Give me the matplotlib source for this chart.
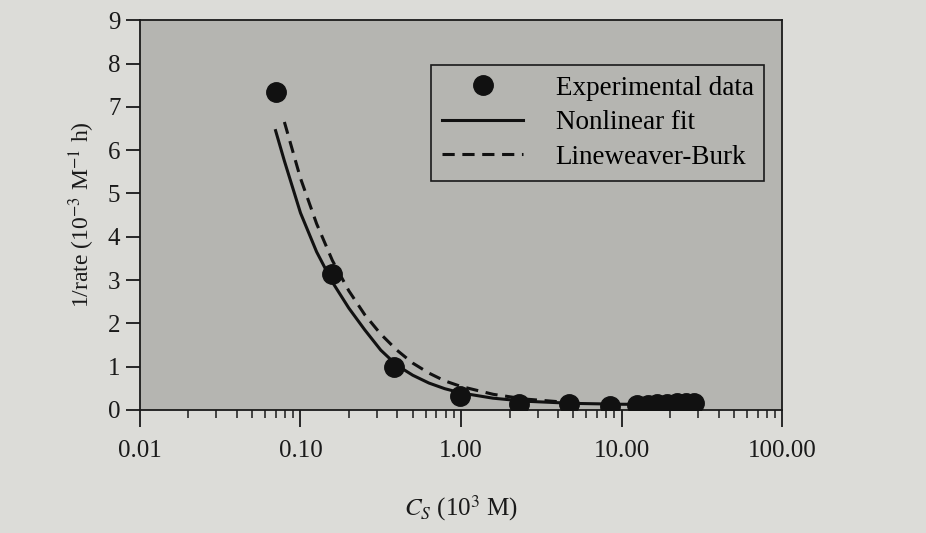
import matplotlib
matplotlib.use("Agg")
import matplotlib.pyplot as plt
from matplotlib.ticker import FixedLocator, LogLocator, NullFormatter

plt.rcParams['font.family'] = ['Liberation Serif', 'DejaVu Serif']
plt.rcParams['mathtext.fontset'] = 'stix'

# Experimental data
cs_exp = [0.07, 0.156, 0.38, 0.98, 2.3, 4.7, 8.5, 12.5, 14.5, 16.5, 19, 22, 25, 28]
inv_rate_exp = [7.35, 3.15, 0.98, 0.32, 0.14, 0.13, 0.09, 0.11, 0.12, 0.13, 0.14, 0.15, 0.16, 0.17]

# Nonlinear fit
cs_fit = [0.070, 0.0794, 0.10, 0.126, 0.158, 0.20, 0.251, 0.316, 0.398, 0.50, 0.63, 0.79,
          1.0, 1.58, 2.5, 5.0, 10.0, 31.6]
inv_rate_fit = [6.45, 5.75, 4.55, 3.65, 2.95, 2.35, 1.85, 1.38, 1.03, 0.80, 0.62, 0.49,
                0.39, 0.27, 0.20, 0.15, 0.13, 0.12]

# Lineweaver-Burk
cs_lb = [0.0794, 0.10, 0.126, 0.158, 0.20, 0.251, 0.316, 0.398, 0.50, 0.63, 0.79, 1.0,
         1.58, 2.5, 4.0, 5.0]
inv_rate_lb = [6.65, 5.35, 4.30, 3.45, 2.75, 2.20, 1.75, 1.38, 1.08, 0.85, 0.67, 0.54,
               0.36, 0.25, 0.19, 0.17]

xtick_vals = [0.01, 0.1, 1, 10, 100]
xtick_labels = ["0.01", "0.10", "1.00", "10.00", "100.00"]
ytick_vals = list(range(0, 10))

fig = plt.figure(figsize=(9.26, 5.33), dpi=100)
fig.patch.set_facecolor('#dcdcd8')
ax = fig.add_axes([0.151, 0.231, 0.694, 0.731])
ax.set_facecolor('#b5b5b1')

ax.plot(cs_fit, inv_rate_fit, color='#111111', lw=2.2, label='Nonlinear fit', zorder=3)
ax.plot(cs_lb, inv_rate_lb, color='#111111', lw=2.2, ls=(0, (4, 2.5)), label='Lineweaver-Burk', zorder=3)
ax.plot(cs_exp, inv_rate_exp, 'o', color='#111111', ms=14, label='Experimental data', zorder=4)

ax.set_xscale('log')
ax.set_xlim(0.01, 100)
ax.set_ylim(0, 9)
ax.xaxis.set_major_locator(FixedLocator(xtick_vals))
ax.set_xticklabels(xtick_labels)
ax.xaxis.set_minor_locator(LogLocator(base=10, subs=range(2, 10)))
ax.xaxis.set_minor_formatter(NullFormatter())
ax.set_yticks(ytick_vals)

ax.tick_params(axis='x', which='major', direction='out', length=12, width=1.3, labelsize=18, pad=10, colors='#1a1a1a')
ax.tick_params(axis='x', which='minor', direction='out', length=6, width=1.1, colors='#1a1a1a')
ax.tick_params(axis='y', which='major', direction='out', length=10, width=1.3, labelsize=18, pad=4, colors='#1a1a1a')

for s in ax.spines.values():
    s.set_color('#1a1a1a')
    s.set_linewidth(1.3)

ax.set_xlabel(r'$C_S$ (10$^3$ M)', fontsize=18, color='#1a1a1a', labelpad=22)
ax.set_ylabel(r'1/rate (10$^{-3}$ M$^{-1}$ h)', fontsize=17, color='#1a1a1a', labelpad=8)

handles, labels = ax.get_legend_handles_labels()
order = [2, 0, 1]
leg = ax.legend([handles[i] for i in order], [labels[i] for i in order],
                loc='upper right', bbox_to_anchor=(0.972, 0.885), fontsize=19.5,
                frameon=True, fancybox=False, edgecolor='#1a1a1a', facecolor='#b5b5b1',
                framealpha=1, handlelength=3.0, borderpad=0.4, labelspacing=0.35,
                handletextpad=1.2, borderaxespad=0)
leg.get_frame().set_linewidth(1.2)

fig.savefig('out.png', dpi=100, facecolor=fig.get_facecolor())
